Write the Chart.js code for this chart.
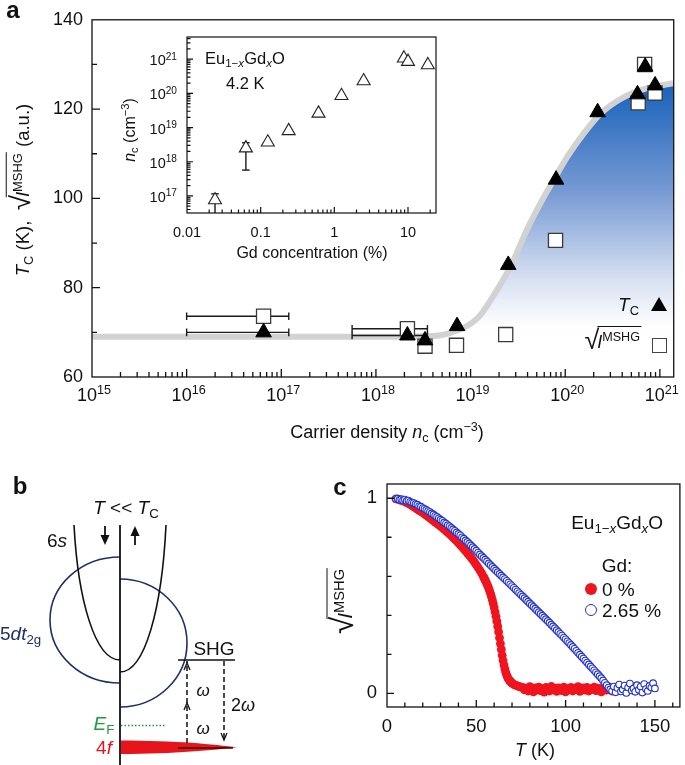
<!DOCTYPE html>
<html><head><meta charset="utf-8">
<script src="https://cdn.jsdelivr.net/npm/chart.js@4.4.1/dist/chart.umd.min.js"></script>
<style>
body{margin:0;background:#fff;}
#wrap{position:relative;width:685px;height:765px;overflow:hidden;background:#fff;font-family:"Liberation Sans",Arial,Helvetica,sans-serif;color:#111}
canvas{position:absolute}
.t{position:absolute;white-space:nowrap;line-height:1;transform:translate(-50%,-50%)}
.l{transform:translate(0,-50%)}
.r{transform:translate(-100%,-50%)}
.rot{transform:translate(-50%,-50%) rotate(-90deg)}
.b{font-weight:bold;font-size:24px}
sub,sup{font-size:70%;line-height:0;position:relative;vertical-align:baseline}
sub{top:0.3em} sup{top:-0.55em}
.rad{font-size:150%;line-height:0;position:relative;top:0.04em}
.ov{border-top:1.4px solid #111;padding-top:5px;margin-left:-2px;padding-right:1px}
</style></head>
<body>
<div id="wrap">
<canvas id="ca" width="685" height="450" style="left:0;top:0"></canvas>
<canvas id="ci" width="340" height="250" style="left:110px;top:20px"></canvas>
<canvas id="cb" width="330" height="305" style="left:0;top:460px"></canvas>
<canvas id="cc" width="355" height="305" style="left:330px;top:460px"></canvas>

<!-- panel a texts -->
<div class="t b" style="left:13px;top:10px">a</div>
<div class="t rot" style="left:23px;top:190px;font-size:18.5px"><i>T</i><sub>C</sub> (K), &nbsp;<span class="rad">√</span><span class="ov"><i>I</i><sup>MSHG</sup></span> (a.u.)</div>
<div class="t" style="left:387px;top:432px;font-size:18px">Carrier density <i>n</i><sub>c</sub> (cm<sup>−3</sup>)</div>
<div class="t r" style="left:639px;top:305px;font-size:18.5px"><i>T</i><sub>C</sub></div>
<div style="position:absolute;left:651px;top:297px;width:0;height:0;border-left:8px solid transparent;border-right:8px solid transparent;border-bottom:14px solid #000"></div>
<div class="t r" style="left:641px;top:342px;font-size:18px"><span class="rad">√</span><span class="ov"><i>I</i><sup>MSHG</sup></span></div>
<div style="position:absolute;left:652px;top:338px;width:13px;height:13px;border:1.2px solid #444;background:#fff"></div>
<!-- inset texts -->
<div class="t l" style="left:205px;top:58px;font-size:16.5px">Eu<sub>1−<i>x</i></sub>Gd<sub><i>x</i></sub>O</div>
<div class="t l" style="left:226px;top:83px;font-size:16.5px">4.2 K</div>
<div class="t" style="left:312px;top:253px;font-size:16px">Gd concentration (%)</div>
<div class="t rot" style="left:130px;top:130px;font-size:16px"><i>n</i><sub>c</sub> (cm<sup>−3</sup>)</div>
<!-- panel b texts -->
<div class="t b" style="left:20px;top:486px">b</div>
<div class="t" style="left:126px;top:507px;font-size:19px"><i>T</i> &lt;&lt; <i>T</i><sub>C</sub></div>
<div class="t" style="left:57px;top:540px;font-size:19px">6<i>s</i></div>
<div class="t l" style="left:0px;top:633px;font-size:19px;color:#1c2f6e">5<i>dt</i><sub>2g</sub></div>
<div class="t" style="left:214px;top:648px;font-size:19px">SHG</div>
<div class="t" style="left:203px;top:690px;font-size:17px"><i>ω</i></div>
<div class="t" style="left:203px;top:728px;font-size:17px"><i>ω</i></div>
<div class="t" style="left:243px;top:705px;font-size:18px">2<i>ω</i></div>
<div class="t" style="left:104px;top:723px;font-size:19px;color:#1aa040"><i>E</i><sub>F</sub></div>
<div class="t" style="left:104px;top:747px;font-size:19px;color:#e8141c">4<i>f</i></div>
<!-- panel c texts -->
<div class="t b" style="left:340px;top:487px">c</div>
<div class="t r" style="left:663px;top:522px;font-size:19px">Eu<sub>1−<i>x</i></sub>Gd<sub><i>x</i></sub>O</div>
<div class="t" style="left:617px;top:565px;font-size:19px">Gd:</div>
<div style="position:absolute;left:585px;top:583px;width:12px;height:12px;border-radius:50%;background:#f0141e"></div>
<div class="t l" style="left:602px;top:589px;font-size:19px">0 %</div>
<div style="position:absolute;left:585px;top:604px;width:10px;height:10px;border-radius:50%;border:1.3px solid #2233cc"></div>
<div class="t l" style="left:602px;top:610px;font-size:19px">2.65 %</div>
<div class="t rot" style="left:344px;top:601px;font-size:21px"><span class="rad">√</span><span class="ov"><i>I</i><sup>MSHG</sup></span></div>
<div class="t" style="left:535px;top:750px;font-size:18px"><i>T</i> (K)</div>
</div>

<script>
// ---------- DATA ----------
// Panel a: Tc (filled triangles) vs carrier density
const tcN   = [6.5e16, 2.15e18, 3.3e18, 7.2e18, 2.5e19, 8.0e19, 2.2e20, 5.8e20, 7.0e20, 8.9e20];
const tcK   = [70.0, 69.3, 68.2, 71.4, 85.1, 104.2, 119.3, 123.3, 129.5, 125.3];
const tcErrLo = [1.0e16, 5.6e17, null, null, null, null, null, null, null, null];
const tcErrHi = [1.2e17, 3.5e18, null, null, null, null, null, null, null, null];
// Panel a: sqrt(I_MSHG) (open squares)
const sqN   = [6.5e16, 2.15e18, 3.3e18, 7.1e18, 2.35e19, 7.9e19, 5.9e20, 6.9e20, 8.9e20];
const sqV   = [73.6, 70.8, 66.9, 67.1, 69.5, 90.6, 121.4, 130.0, 123.6];
const sqErrLo = [1.0e16, 5.6e17, null, null, null, null, null, null, null];
const sqErrHi = [1.2e17, 3.5e18, null, null, null, null, null, null, null];
// Panel a: guide curve
const curveN = [1e15, 1e16, 1e17, 1e18, 3.2e18, 5.75e18, 1.2e19, 1.78e19, 2.69e19, 3.98e19, 5.5e19, 7.59e19, 1.05e20, 1.55e20, 2.34e20, 3.8e20, 6.6e20, 1.38e21];
const curveT = [69, 69, 69, 69, 69.1, 69.7, 73.3, 78.5, 85.1, 93.2, 99, 104.2, 109.3, 114.4, 118.9, 122.2, 124.4, 125.8];
const aXTickExp = [15, 16, 17, 18, 19, 20, 21];
const aYTicks = [60, 80, 100, 120, 140];
const aYMinor = [70, 90, 110, 130];

// Inset: nc vs Gd concentration
const gdX  = [0.024, 0.063, 0.125, 0.24, 0.61, 1.25, 2.5, 8.8, 10.0, 18.6];
const gdNc = [7.6e16, 2.5e18, 3.7e18, 8.0e18, 2.6e19, 8.5e19, 2.3e20, 1.07e21, 8.5e20, 6.8e20];
const gdErrLo = [2.0e16, 5.7e17, null, null, null, null, null, null, null, null];
const gdErrHi = [1.15e17, 3.6e18, null, null, null, null, null, null, null, null];
const inXTicks = [0.01, 0.1, 1, 10];
const inYTickExp = [17, 18, 19, 20, 21];

// Panel c: sqrt(I_MSHG) vs T
const redT = [5,6,7,8,9,10,11,12,13,14,15,16,17,18,19,20,21,22,23,24,25,26,27,28,29,30,31,32,33,34,35,36,37,38,39,40,41,42,43,44,45,46,47,48,49,50,51,52,53,54,
 54.5,55,55.5,56,56.5,57,57.5,58,58.5,59,59.5,60,60.5,61,61.5,62,62.5,63,63.5,64,64.5,65,65.5,66,66.5,67,67.5,68,68.5,69,69.5,70,
 71,72,73,74,75,76,77,78,79,80,81,82,83,84,85,86,87,88,89,90,91,92,93,94,95,96,97,98,99,100,101,102,103,104,105,106,107,108,109,110,
 111,112,113,114,115,116,117,118,119,120,121,122,123,124,125,126,127,128,129,130,131,132,133,134,135,136,137,138,139,140,141,142,143,144,145,146,147,148,149,150];
const redV = [.997,.995,.992,.989,.986,.982,.978,.973,.968,.962,.956,.95,.944,.938,.932,.926,.92,.913,.906,.899,.892,.885,.878,.871,.864,.857,.849,.841,.833,.825,.817,.808,.799,.79,.781,.771,.761,.751,.741,.73,.719,.708,.697,.685,.672,.659,.645,.63,.615,.598,
 .589,.58,.57,.56,.549,.537,.524,.51,.495,.478,.46,.44,.418,.395,.37,.343,.315,.285,.255,.225,.195,.168,.145,.125,.108,.094,.083,.074,.067,.061,.056,.052,
 .046,.042,.038,.035,.032,.03,.018,.026,.012,.034,.02,.008,.028,.016,.032,.014,.024,.006,.03,.02,.012,.035,.018,.026,.01,.028,.022,.014,.032,.008,.024,.018,.03,.012,.026,
 .02,.034,.01,.022,.028,.016,.03,.012,.024,.02,.032,.014,.026,.018,.008,.03,.022,.016,.034,.02,.012,.028,.024,.018,.036,.026,.03,.022,.034,.028,.024,.032,.02,.036,.028,.022,.03,.016,.034,.026];
const blueT = [5,6,7,8,9,10,11,12,13,14,15,16,17,18,19,20,21,22,23,24,25,26,27,28,29,30,31,32,33,34,35,36,37,38,39,40,41,42,43,44,45,46,47,48,49,50,
 51,52,53,54,55,56,57,58,59,60,61,62,63,64,65,66,67,68,69,70,71,72,73,74,75,76,77,78,79,80,81,82,83,84,85,86,87,88,89,90,
 91,92,93,94,95,96,97,98,99,100,101,102,103,104,105,106,107,108,109,110,111,112,113,114,115,116,117,118,119,120,121,122,123,124,125,
 126,127,128,129,130,131,132,133,134,135,136,137,138,139,140,141,142,143,144,145,146,147,148,149,150];
const blueV = [.996,.998,.992,.995,.99,.993,.986,.988,.982,.978,.975,.97,.967,.96,.957,.95,.946,.94,.934,.929,.922,.917,.91,.904,.897,.89,.884,.876,.87,.862,.856,.848,.84,.833,.825,.817,.81,.8,.793,.784,.776,.767,.758,.749,.74,.731,
 .722,.712,.703,.694,.685,.676,.666,.657,.648,.639,.63,.621,.612,.603,.594,.586,.577,.568,.559,.55,.541,.532,.523,.514,.505,.497,.488,.479,.47,.461,.452,.443,.434,.425,.416,.407,.398,.389,.38,.371,
 .362,.352,.343,.334,.324,.315,.305,.296,.286,.277,.267,.258,.248,.238,.228,.218,.208,.198,.188,.178,.168,.158,.148,.138,.128,.118,.108,.098,.088,.078,.066,.054,.042,.03,.02,
 .012,.035,.005,.028,.045,.01,.02,.04,.002,.03,.05,.015,.025,.008,.042,.018,.035,.004,.048,.022,.012,.038,.03,.052,.025];
const cXTicks = [0, 50, 100, 150];
const cXMinor = [10,20,30,40,60,70,80,90,110,120,130,140,160];
const cYTicks = [0, 1];
const cYMinor = [0.2, 0.4, 0.6, 0.8];

// ---------- HELPERS ----------
const FONT = '"Liberation Sans", Arial, Helvetica, sans-serif';
const wrap = document.getElementById('wrap');
const logMinor = (e0, e1) => { const a = []; for (let e = e0; e <= e1; e++) for (let m = 2; m <= 9; m++) a.push(m * Math.pow(10, e)); return a; };

const frameTicks = {
  id: 'frameTicks',
  afterDatasetsDraw(chart, args, o) {
    if (!o || !o.on) return;
    const {ctx, chartArea: a} = chart;
    const xs = chart.scales.x, ys = chart.scales.y;
    ctx.save();
    ctx.strokeStyle = '#111';
    ctx.lineWidth = o.lw || 1.3;
    ctx.beginPath();
    const tx = (vals, len) => (vals || []).forEach(v => { const p = xs.getPixelForValue(v); if (p < a.left + 0.5 || p > a.right - 0.5) return; ctx.moveTo(p, a.bottom); ctx.lineTo(p, a.bottom - len); });
    const ty = (vals, len) => (vals || []).forEach(v => { const p = ys.getPixelForValue(v); if (p < a.top + 0.5 || p > a.bottom - 0.5) return; ctx.moveTo(a.left, p); ctx.lineTo(a.left + len, p); });
    tx(o.xMajor, o.majorLen); tx(o.xMinor, o.minorLen);
    ty(o.yMajor, o.majorLen); ty(o.yMinor, o.minorLen);
    ctx.stroke();
    ctx.strokeRect(a.left, a.top, a.right - a.left, a.bottom - a.top);
    ctx.restore();
  }
};
Chart.register(frameTicks);

const tickFont = s => ({family: FONT, size: s});
const errSets = (xs, ys, lo, hi, horiz) => {
  const out = [];
  xs.forEach((x, i) => {
    if (lo[i] == null) return;
    out.push({
      data: horiz ? [{x: lo[i], y: ys[i]}, {x: hi[i], y: ys[i]}] : [{x: x, y: lo[i]}, {x: x, y: hi[i]}],
      showLine: true, borderColor: '#1a1a1a', borderWidth: 1.4, pointStyle: 'line',
      pointRadius: 3.8, pointRotation: horiz ? 90 : 0, pointBorderColor: '#1a1a1a', pointBorderWidth: 1.4, order: 3
    });
  });
  return out;
};
// power-of-ten tick labels as real HTML text, placed through the chart's own scale
function powTicks(chart, canvasEl, axis, exps, size, offset) {
  const s = chart.scales[axis], a = chart.chartArea;
  const L = canvasEl.offsetLeft, T = canvasEl.offsetTop;
  exps.forEach(e => {
    const d = document.createElement('div');
    d.className = axis === 'x' ? 't' : 't r';
    d.style.fontSize = size + 'px';
    d.innerHTML = '10<sup>' + e + '</sup>';
    const p = s.getPixelForValue(Math.pow(10, e));
    if (axis === 'x') { d.style.left = (L + p + 2) + 'px'; d.style.top = (T + a.bottom + offset) + 'px'; }
    else { d.style.left = (L + a.left - offset) + 'px'; d.style.top = (T + p + 1) + 'px'; }
    wrap.appendChild(d);
  });
}

// ---------- PANEL A ----------
const caEl = document.getElementById('ca');
const chartA = new Chart(caEl, {
  type: 'scatter',
  data: {datasets: [
    {data: curveN.map((n, i) => ({x: n, y: curveT[i]})), showLine: true, borderColor: '#d2d2d2', borderWidth: 6,
     pointRadius: 0, cubicInterpolationMode: 'monotone', fill: {value: 69}, order: 5,
     backgroundColor: c => {
       const ch = c.chart; if (!ch.chartArea) return 'rgba(0,0,0,0)';
       const y = ch.scales.y;
       const g = ch.ctx.createLinearGradient(0, y.getPixelForValue(126), 0, y.getPixelForValue(71));
       g.addColorStop(0, 'rgb(22,96,186)'); g.addColorStop(0.45, 'rgb(120,155,212)');
       g.addColorStop(0.8, 'rgb(215,224,242)'); g.addColorStop(1, 'rgb(255,255,255)');
       return g;
     }},
    ...errSets(sqN, sqV, sqErrLo, sqErrHi, true),
    ...errSets(tcN, tcK, tcErrLo, tcErrHi, true),
    {data: sqN.map((n, i) => ({x: n, y: sqV[i]})), pointStyle: 'rect', pointRadius: 10, backgroundColor: '#fff',
     borderColor: '#3a3a3a', borderWidth: 1.3, order: 2},
    {data: tcN.map((n, i) => ({x: n, y: tcK[i]})), pointStyle: 'triangle', pointRadius: 9, backgroundColor: '#000',
     borderColor: '#000', borderWidth: 1, order: 1}
  ]},
  options: {
    responsive: false, animation: false, events: [],
    layout: {padding: {top: 14, right: 5, left: 0, bottom: 0}},
    plugins: {legend: {display: false}, tooltip: {enabled: false},
      frameTicks: {on: true, xMajor: aXTickExp.map(e => Math.pow(10, e)), xMinor: logMinor(15, 21), yMajor: aYTicks, yMinor: aYMinor, majorLen: 8, minorLen: 5}},
    scales: {
      x: {type: 'logarithmic', min: 1e15, max: 1.4e21, grid: {display: false, drawTicks: false}, border: {display: false},
          afterBuildTicks: s => { s.ticks = aXTickExp.map(e => ({value: Math.pow(10, e)})); },
          afterFit: s => { s.height = 73; },
          ticks: {display: false}},
      y: {min: 60, max: 140, grid: {display: false, drawTicks: false}, border: {display: false},
          afterBuildTicks: s => { s.ticks = aYTicks.map(v => ({value: v})); },
          afterFit: s => { s.width = 92; },
          ticks: {font: tickFont(18), color: '#111', padding: 9}}
    }
  }
});
powTicks(chartA, caEl, 'x', aXTickExp, 18, 18);

// ---------- INSET ----------
const ciEl = document.getElementById('ci');
const chartI = new Chart(ciEl, {
  type: 'scatter',
  data: {datasets: [
    ...errSets(gdX, gdNc, gdErrLo, gdErrHi, false),
    {data: gdX.map((x, i) => ({x: x, y: gdNc[i]})), pointStyle: 'triangle', pointRadius: 7.5, backgroundColor: '#fff',
     borderColor: '#222', borderWidth: 1.1, order: 1}
  ]},
  options: {
    responsive: false, animation: false, events: [],
    layout: {padding: {top: 17, right: 14, left: 0, bottom: 0}},
    plugins: {legend: {display: false}, tooltip: {enabled: false},
      frameTicks: {on: true, lw: 1.2, xMajor: inXTicks, xMinor: logMinor(-2, 1), yMajor: inYTickExp.map(e => Math.pow(10, e)), yMinor: logMinor(16, 21), majorLen: 6, minorLen: 3.5}},
    scales: {
      x: {type: 'logarithmic', min: 0.01, max: 24, grid: {display: false, drawTicks: false}, border: {display: false},
          afterBuildTicks: s => { s.ticks = inXTicks.map(v => ({value: v})); },
          afterFit: s => { s.height = 57; },
          ticks: {callback: v => String(v), font: tickFont(14.5), color: '#111', padding: 11, maxRotation: 0, autoSkip: false}},
      y: {type: 'logarithmic', min: Math.pow(10, 16.5), max: Math.pow(10, 21.65), grid: {display: false, drawTicks: false}, border: {display: false},
          afterBuildTicks: s => { s.ticks = inYTickExp.map(e => ({value: Math.pow(10, e)})); },
          afterFit: s => { s.width = 77; },
          ticks: {display: false}}
    }
  },
  plugins: [{id: 'whiteBg', beforeDraw(ch) { const a = ch.chartArea; ch.ctx.save(); ch.ctx.fillStyle = '#fff'; ch.ctx.fillRect(a.left, a.top, a.right - a.left, a.bottom - a.top); ch.ctx.restore(); }}]
});
powTicks(chartI, ciEl, 'y', inYTickExp, 14.5, 10);

// ---------- PANEL B (schematic) ----------
const bAxis = {x: 120, y0: 65, y1: 305};
const bParab = [{x0: 74, y0: 65, c1x: 78, c1y: 140, c2x: 95, c2y: 200, x1: 120, y1: 200},
                {x0: 166, y0: 65, c1x: 162, c1y: 148, c2x: 145, c2y: 212, x1: 120, y1: 212}];
const bEllipse = [{cx: 120, cy: 160, rx: 70, ry: 63, side: -1}, {cx: 120, cy: 183, rx: 67, ry: 64, side: 1}];
new Chart(document.getElementById('cb'), {
  type: 'scatter',
  data: {datasets: [{data: []}]},
  options: {
    responsive: false, animation: false, events: [],
    layout: {padding: 0},
    plugins: {legend: {display: false}, tooltip: {enabled: false}},
    scales: {x: {type: 'linear', min: 0, max: 330, display: false}, y: {type: 'linear', min: 0, max: 305, reverse: true, display: false}}
  },
  plugins: [{id: 'schematic', afterDraw(ch) {
    const ctx = ch.ctx, X = v => ch.scales.x.getPixelForValue(v), Y = v => ch.scales.y.getPixelForValue(v);
    ctx.save();
    ctx.strokeStyle = '#1c2f6e'; ctx.lineWidth = 1.6;
    bEllipse.forEach(e => {
      ctx.beginPath();
      ctx.ellipse(X(e.cx), Y(e.cy), Math.abs(X(e.cx + e.rx) - X(e.cx)), Math.abs(Y(e.cy + e.ry) - Y(e.cy)), 0,
        e.side < 0 ? Math.PI / 2 : -Math.PI / 2, e.side < 0 ? 3 * Math.PI / 2 : Math.PI / 2);
      ctx.stroke();
    });
    ctx.strokeStyle = '#111'; ctx.lineWidth = 1.6;
    bParab.forEach(p => {
      ctx.beginPath(); ctx.moveTo(X(p.x0), Y(p.y0));
      ctx.bezierCurveTo(X(p.c1x), Y(p.c1y), X(p.c2x), Y(p.c2y), X(p.x1), Y(p.y1)); ctx.stroke();
    });
    ctx.lineWidth = 1.8; ctx.beginPath(); ctx.moveTo(X(bAxis.x), Y(bAxis.y0)); ctx.lineTo(X(bAxis.x), Y(bAxis.y1)); ctx.stroke();
    const arrow = (x, yt, yb, up) => {
      ctx.lineWidth = 1.8; ctx.beginPath();
      if (up) { ctx.moveTo(X(x), Y(yb)); ctx.lineTo(X(x), Y(yt + 8)); } else { ctx.moveTo(X(x), Y(yt)); ctx.lineTo(X(x), Y(yb - 8)); }
      ctx.stroke(); ctx.beginPath();
      if (up) { ctx.moveTo(X(x), Y(yt)); ctx.lineTo(X(x - 4.5), Y(yt + 10)); ctx.lineTo(X(x + 4.5), Y(yt + 10)); }
      else { ctx.moveTo(X(x), Y(yb)); ctx.lineTo(X(x - 4.5), Y(yb - 10)); ctx.lineTo(X(x + 4.5), Y(yb - 10)); }
      ctx.closePath(); ctx.fillStyle = '#111'; ctx.fill();
    };
    arrow(105, 66, 85, false); arrow(135, 66, 85, true);
    ctx.fillStyle = '#e8141c'; ctx.beginPath();
    ctx.moveTo(X(121), Y(280.5));
    ctx.bezierCurveTo(X(175), Y(280.5), X(215), Y(284.5), X(237), Y(287.3));
    ctx.bezierCurveTo(X(215), Y(290), X(175), Y(294), X(121), Y(294));
    ctx.closePath(); ctx.fill();
    ctx.strokeStyle = '#3a0000'; ctx.lineWidth = 1.3; ctx.beginPath(); ctx.moveTo(X(178), Y(288)); ctx.lineTo(X(233), Y(288)); ctx.stroke();
    ctx.strokeStyle = '#1aa040'; ctx.lineWidth = 1.4; ctx.setLineDash([1.5, 2]);
    ctx.beginPath(); ctx.moveTo(X(121), Y(265.5)); ctx.lineTo(X(165), Y(265.5)); ctx.stroke();
    ctx.setLineDash([]); ctx.strokeStyle = '#111'; ctx.lineWidth = 1.6;
    ctx.beginPath(); ctx.moveTo(X(178), Y(200)); ctx.lineTo(X(235), Y(200)); ctx.stroke();
    ctx.lineWidth = 1.5; ctx.setLineDash([5, 3]);
    ctx.beginPath(); ctx.moveTo(X(187), Y(283)); ctx.lineTo(X(187), Y(201)); ctx.stroke();
    ctx.beginPath(); ctx.moveTo(X(224), Y(201)); ctx.lineTo(X(224), Y(280)); ctx.stroke();
    ctx.setLineDash([]); ctx.lineWidth = 1.3;
    const chev = (x, tip, dir) => { ctx.beginPath(); ctx.moveTo(X(x - 3), Y(tip + dir * 7)); ctx.lineTo(X(x), Y(tip)); ctx.lineTo(X(x + 3), Y(tip + dir * 7)); ctx.stroke(); };
    chev(187, 203, 1); chev(187, 243, 1); chev(224, 280, -1);
    ctx.restore();
  }}]
});

// ---------- PANEL C ----------
new Chart(document.getElementById('cc'), {
  type: 'scatter',
  data: {datasets: [
    {data: redT.map((t, i) => ({x: t, y: redV[i]})), pointRadius: 4.4, backgroundColor: '#f0141e', borderColor: '#f0141e', borderWidth: 0, order: 2},
    {data: blueT.map((t, i) => ({x: t, y: blueV[i]})), pointRadius: 3.3, backgroundColor: '#fff', borderColor: '#2233cc', borderWidth: 1.1, order: 1}
  ]},
  options: {
    responsive: false, animation: false, events: [],
    layout: {padding: {top: 24, right: 2, left: 0, bottom: 0}},
    plugins: {legend: {display: false}, tooltip: {enabled: false},
      frameTicks: {on: true, xMajor: cXTicks, xMinor: cXMinor, yMajor: cYTicks, yMinor: cYMinor, majorLen: 7, minorLen: 4.5}},
    scales: {
      x: {type: 'linear', min: 0, max: 164, grid: {display: false, drawTicks: false}, border: {display: false},
          afterBuildTicks: s => { s.ticks = cXTicks.map(v => ({value: v})); },
          afterFit: s => { s.height = 58; },
          ticks: {font: tickFont(18.5), color: '#111', padding: 9, maxRotation: 0, autoSkip: false}},
      y: {type: 'linear', min: -0.07, max: 1.073, grid: {display: false, drawTicks: false}, border: {display: false},
          afterBuildTicks: s => { s.ticks = cYTicks.map(v => ({value: v})); },
          afterFit: s => { s.width = 57; },
          ticks: {font: tickFont(18.5), color: '#111', padding: 10}}
    }
  }
});
</script>
</body></html>
